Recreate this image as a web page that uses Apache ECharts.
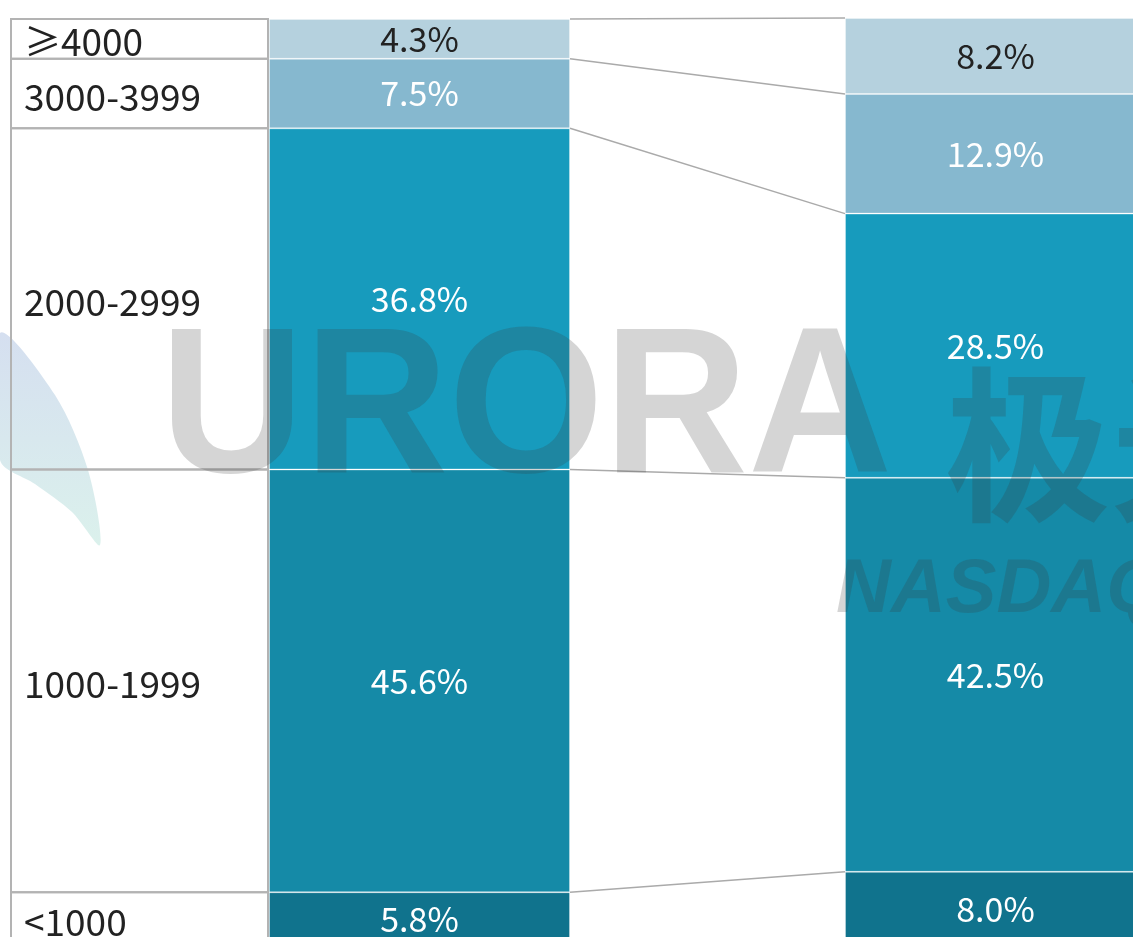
<!DOCTYPE html>
<html>
<head>
<meta charset="utf-8">
<script src="https://cdn.jsdelivr.net/npm/echarts@6/dist/echarts.min.js"></script>
<style>
  html, body { margin: 0; padding: 0; background: #fff; }
  #chart { width: 1133px; height: 937px; }
</style>
</head>
<body>
<div id="chart"></div>
<script>
// income buckets, bottom of the stack first
const buckets = ['<1000', '1000-1999', '2000-2999', '3000-3999', '≥4000']
const columns = ['A', 'B']
const leftShare = [5.8, 45.6, 36.8, 7.5, 4.3]
const rightShare = [8.0, 42.5, 28.5, 12.9, 8.2]

const colors = ['#10738d', '#158aa7', '#179bbd', '#86b8cf', '#b5d1de']
const labelColors = ['#fff', '#fff', '#fff', '#fff', '#222']
const barWidth = 301
const font = '"Noto Sans CJK SC", "Noto Sans", sans-serif'
const markColor = 'rgba(57,57,57,0.21)'

function cumulate (arr) {
  let s = 0
  return arr.map(v => { s = +(s + v).toFixed(2); return s })
}
const leftCum = cumulate(leftShare)
const rightCum = cumulate(rightShare)

const chart = echarts.init(document.getElementById('chart'))

const barSeries = buckets.map((name, i) => ({
  name: name,
  type: 'bar',
  stack: 'total',
  barWidth: barWidth,
  itemStyle: {
    color: colors[i],
    borderColor: 'rgba(255,255,255,0.3)',
    borderWidth: 1
  },
  label: {
    show: true,
    position: 'inside',
    formatter: p => p.value.toFixed(1) + '%',
    fontFamily: font,
    fontSize: 34,
    color: labelColors[i]
  },
  data: [leftShare[i], rightShare[i]]
}))

// grey lines joining each stack boundary of the two bars
const linkSeries = {
  type: 'custom',
  z: 1,
  silent: true,
  clip: false,
  data: leftCum.map((v, i) => [0, v, rightCum[i]]),
  renderItem: function (params, api) {
    const p1 = api.coord([0, api.value(1)])
    const p2 = api.coord([1, api.value(2)])
    return {
      type: 'line',
      shape: { x1: p1[0] + barWidth / 2, y1: p1[1], x2: p2[0] - barWidth / 2, y2: p2[1] },
      style: { stroke: '#aaa', lineWidth: 1.5 }
    }
  }
}

// label table on the left of the first bar
const tableSeries = {
  type: 'custom',
  z: 1,
  silent: true,
  clip: false,
  data: buckets.map((b, i) => [0, i === 0 ? 0 : leftCum[i - 1], leftCum[i]]),
  renderItem: function (params, api) {
    const lo = api.coord([0, api.value(1)])
    const hi = api.coord([0, api.value(2)])
    const right = lo[0] - barWidth / 2 - 1
    const left = right - 257
    return {
      type: 'group',
      children: [{
        type: 'rect',
        shape: { x: left, y: hi[1], width: right - left, height: lo[1] - hi[1] },
        style: { fill: 'none', stroke: '#b3b3b3', lineWidth: 2 }
      }, {
        type: 'text',
        style: {
          x: left + 13,
          y: (hi[1] + lo[1]) / 2 + 3,
          text: buckets[params.dataIndex],
          fill: '#222',
          font: '37px ' + font,
          verticalAlign: 'middle'
        }
      }]
    }
  }
}

const option = {
  animation: false,
  backgroundColor: '#fff',
  // plot runs past the right and bottom edges of the canvas
  grid: { left: 131.5, top: 18, width: 1152, height: 928, outerBoundsMode: 'none' },
  xAxis: { type: 'category', data: columns, show: false },
  yAxis: { type: 'value', min: 0, max: 100.1, show: false },
  graphic: [{
    type: 'polygon',
    z: 0,
    silent: true,
    shape: {
      points: [[0, 333], [55, 395], [88, 470], [100, 545], [72, 512], [35, 484], [0, 460]],
      smooth: 0.3
    },
    style: {
      fill: {
        type: 'linear', x: 0, y: 0, x2: 0, y2: 1,
        colorStops: [{ offset: 0, color: '#d5dff0' }, { offset: 1, color: '#dbf1ec' }]
      }
    }
  }, {
    type: 'text',
    z: 100,
    silent: true,
    x: 160,
    scaleX: 0.96,
    style: {
      x: 0, y: 519, text: 'URORA',
      font: 'bold 208px "Liberation Sans", Arial, sans-serif',
      fill: markColor, verticalAlign: 'bottom'
    }
  }, {
    type: 'text',
    z: 100,
    silent: true,
    style: {
      x: 945, y: 528, text: '极光',
      font: 'bold 166px "Noto Sans CJK SC", sans-serif',
      fill: markColor, verticalAlign: 'bottom'
    }
  }, {
    type: 'text',
    z: 100,
    silent: true,
    style: {
      x: 836, y: 629, text: 'NASDAQ:JG',
      font: 'italic bold 76px "Liberation Sans", sans-serif',
      fill: markColor, verticalAlign: 'bottom'
    }
  }],
  series: barSeries.concat([linkSeries, tableSeries])
}

chart.setOption(option)
</script>
</body>
</html>
